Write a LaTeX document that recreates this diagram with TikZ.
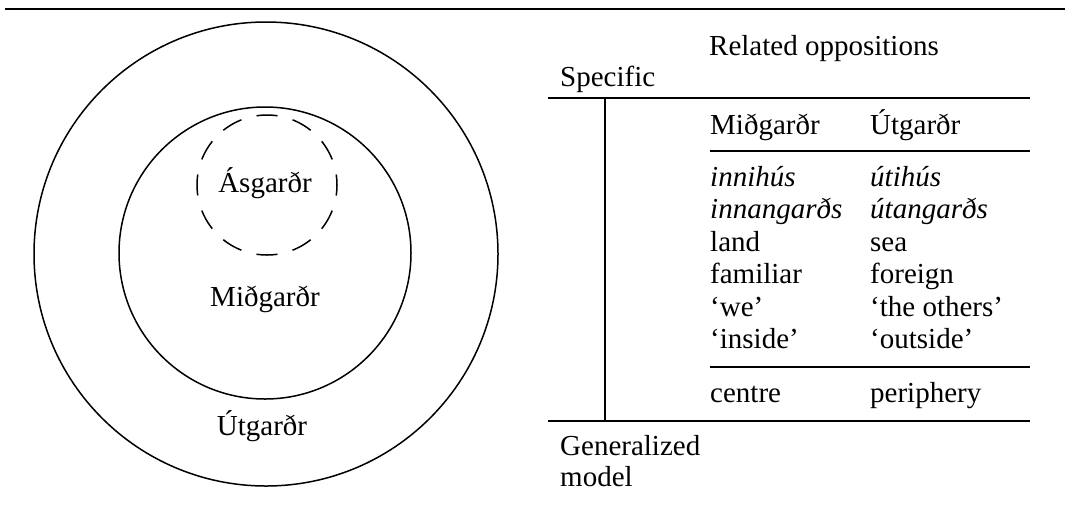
\documentclass[tikz,border=0pt]{standalone}
\usepackage{fontspec}
\setmainfont{Liberation Serif}
\usetikzlibrary{positioning}

\begin{document}
\begin{tikzpicture}[x=1pt, y=-1pt, font=\fontsize{29}{34}\selectfont,
  lbl/.style={inner sep=0pt, anchor=base west},
  ring/.style={line width=1.5pt},
  rule/.style={line width=1.1pt}]
\useasboundingbox (0,0) rectangle (1065,507);
\draw[line width=2.6pt] (5,9) -- (1065,9);

% the three worlds
\draw[ring] (266,254) circle[radius=232pt];
\draw[ring] (265,253) circle[radius=146pt];
\draw[ring, dash pattern=on 21pt off 15.65pt, dash phase=10.5pt] (267,185) circle[radius=70pt];
\node[lbl, anchor=base] (asgard) at (265,192) {Ásgarðr};
\node[lbl, anchor=base] (midgard) at (265,306) {Miðgarðr};
\node[lbl, anchor=base] (utgard) at (262,435) {Útgarðr};

% table of oppositions
\node[lbl] (related) at (709,55) {Related oppositions};
\node[lbl] (specific) at (560,86) {Specific};
\draw[rule] (548,98) -- (1030,98);
\draw[rule] (605,98) -- (605,421);
\node[lbl] (hmid) at (710,134) {Miðgarðr};
\node[lbl] (hutg) at (870,134) {Útgarðr};
\draw[rule] (710,151) -- (1030,151);
\foreach \lft/\rgt [count=\i from 0] in {\textit{innihús}/\textit{útihús},
    \textit{innangarðs}/\textit{útangarðs}, land/sea, familiar/foreign,
    `we'/`the others', `inside'/`outside'}
  {\node[lbl] (l\i) at (710,{186+32.5*\i}) {\lft};
   \node[lbl] (r\i) at (870,{186+32.5*\i}) {\rgt};}
\draw[rule] (710,367) -- (1030,367);
\node[lbl] (centre) at (710,402) {centre};
\node[lbl] (periph) at (870,402) {periphery};
\draw[rule] (548,421) -- (1030,421);
\node[lbl] (general) at (560,455) {Generalized};
\node[lbl] (model) at (560,486) {model};
\end{tikzpicture}
\end{document}
